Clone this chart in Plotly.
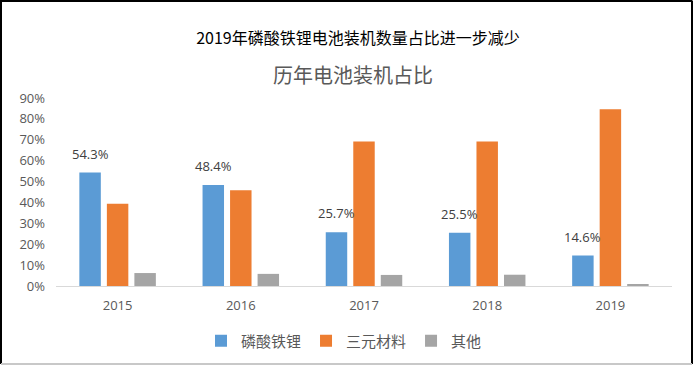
import plotly.graph_objects as go

years = ["2015", "2016", "2017", "2018", "2019"]
lfp = [54.3, 48.4, 25.7, 25.5, 14.6]
ncm = [39.4, 45.8, 69.2, 69.2, 84.6]
other = [6.2, 5.8, 5.3, 5.4, 0.6]
lfp_labels = ["54.3%", "48.4%", "25.7%", "25.5%", "14.6%"]
series_names = ["磷酸铁锂", "三元材料", "其他"]
colors = ["#5B9BD5", "#ED7D31", "#A5A5A5"]
title_text = "2019年磷酸铁锂电池装机数量占比进一步减少"
subtitle_text = "历年电池装机占比"
ytick_vals = [0, 10, 20, 30, 40, 50, 60, 70, 80, 90]
ytick_text = [f"{v}%" for v in ytick_vals]

W, H = 694, 366
ml, mr, mt, mb = 56, 22, 98, 80
bargap = 0.33
bargroupgap = 0.22

fig = go.Figure()
for name, vals, c in zip(series_names, [lfp, ncm, other], colors):
    fig.add_trace(go.Bar(x=years, y=vals, name=name, marker=dict(color=c, line=dict(width=0))))

slot = (1 - bargap) / 3
for i, (v, t) in enumerate(zip(lfp, lfp_labels)):
    fig.add_annotation(x=i - slot, y=v, text=t, showarrow=False, yanchor="bottom",
                       yshift=8, font=dict(size=13, color="#404040", family="Open Sans, Noto Sans"))

pw = W - ml - mr
ph = H - mt - mb
def px(x):
    return (x - ml) / pw
def py(y):
    return (H - mb - y) / ph

fig.add_annotation(text=subtitle_text, xref="paper", yref="paper",
                   x=px(353), y=py(74),
                   showarrow=False, xanchor="center", yanchor="middle",
                   font=dict(size=20, color="#595959", family="Noto Sans CJK SC"))

border = [
    (1, 0.5, 1, 364, "#000000", 2),
    (0, 1, 692, 1, "#000000", 2),
    (692, 0.5, 692, 364, "#000000", 2),
    (1, 364, 692, 364, "#C8C8C8", 2),
]
for x0, y0, x1, y1, c, w in border:
    fig.add_shape(type="line", xref="paper", yref="paper", x0=px(x0), y0=py(y0),
                  x1=px(x1), y1=py(y1), line=dict(color=c, width=w))

fig.update_layout(
    width=W, height=H,
    margin=dict(l=ml, r=mr, t=mt, b=mb, autoexpand=False),
    paper_bgcolor="white", plot_bgcolor="white",
    barmode="group", bargap=bargap, bargroupgap=bargroupgap,
    title=dict(text=title_text, xref="container", yref="container",
               x=358 / W, y=1 - 38 / H, xanchor="center", yanchor="middle",
               font=dict(size=16, color="#000000", family="Noto Sans CJK SC")),
    showlegend=True,
    legend=dict(orientation="h", xref="paper", yref="paper",
                x=px(344), y=py(341), xanchor="center", yanchor="middle",
                bgcolor="rgba(0,0,0,0)",
                font=dict(size=15, color="#595959", family="Noto Sans CJK SC"),
                itemwidth=30, traceorder="normal", tracegroupgap=0),
    xaxis=dict(showgrid=False, showline=True, linecolor="#D9D9D9", linewidth=1,
               ticks="", tickfont=dict(size=13, color="#595959", family="Open Sans, Noto Sans"),
               ticklabelstandoff=7, automargin=False),
    yaxis=dict(range=[0, 90], tickvals=ytick_vals, ticktext=ytick_text,
               showgrid=False, showline=False, zeroline=False, ticks="",
               tickfont=dict(size=13, color="#595959", family="Open Sans, Noto Sans"),
               ticklabelstandoff=10, automargin=False),
)

fig.write_html("out.html", config={"displayModeBar": False},
               post_script="document.body.style.margin='0';document.body.style.overflow='hidden';")
